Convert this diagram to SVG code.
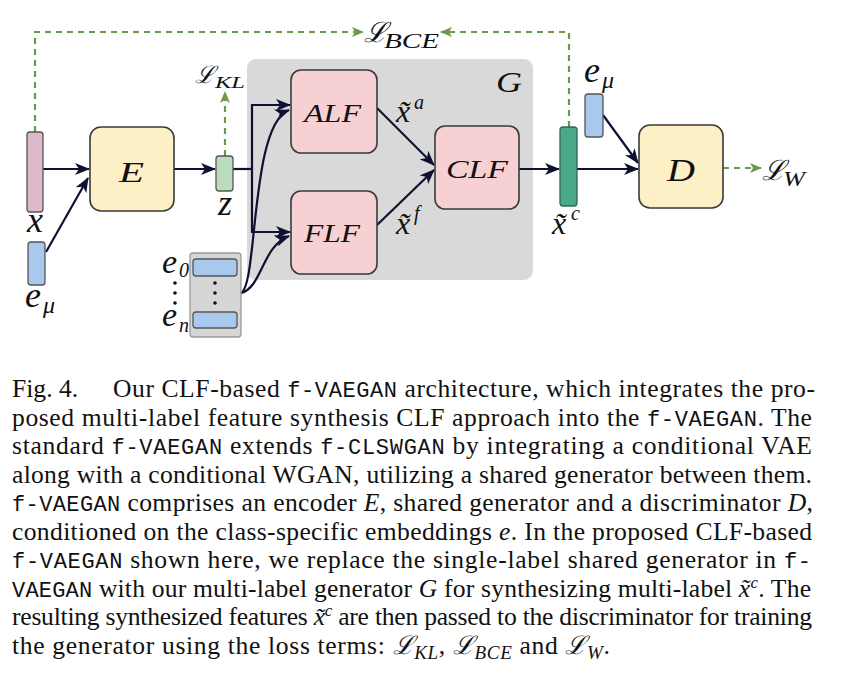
<svg xmlns="http://www.w3.org/2000/svg" width="842" height="679" viewBox="0 0 842 679">
<style>
.bar{stroke:#555;stroke-width:1.3}
.box{stroke:#3a3a3a;stroke-width:1.6}
.arr{fill:none;stroke:#0e1130;stroke-width:2.2;marker-end:url(#ah)}
.dashA{fill:none;stroke:#6a994e;stroke-width:2.2;stroke-dasharray:6 5;marker-end:url(#gh)}
.mi{font-family:"Liberation Serif","DejaVu Serif",serif;font-style:italic;fill:#111}
.cap{font-family:"Liberation Serif","DejaVu Serif",serif;font-size:25.6px;fill:#111}
.m{font-family:"Courier New","Nimbus Mono PS","FreeMono","Liberation Mono",monospace;font-size:22px}
.i{font-style:italic}
</style>
<defs>
<marker id="ah" markerUnits="userSpaceOnUse" viewBox="0 0 15 12" refX="14" refY="6" markerWidth="15" markerHeight="12" orient="auto">
<path d="M0,0 L15,6 L0,12 L4,6 Z" fill="#0e1130"/>
</marker>
<marker id="gh" markerUnits="userSpaceOnUse" viewBox="0 0 12 10" refX="11" refY="5" markerWidth="12" markerHeight="10" orient="auto">
<path d="M0,0 L12,5 L0,10 L3,5 Z" fill="#6a994e"/>
</marker>
</defs>

<g id="G">
<rect x="247" y="59" width="286" height="221" rx="9" fill="#d9d9d9"/>
<text class="mi" x="496" y="92" font-size="30" textLength="26" lengthAdjust="spacingAndGlyphs">G</text>
</g>

<g id="connectors">
<path class="dashA" d="M35,132 V32 H363"/>
<path class="dashA" d="M569,127 V32 H441"/>
<path class="dashA" d="M225,156 V92"/>
<path class="dashA" d="M723,168 H761"/>
<path class="arr" d="M43,169 H89"/>
<path class="arr" d="M46,252 L88,178"/>
<path class="arr" d="M174,169 H215"/>
<path fill="none" stroke="#0e1130" stroke-width="2.2" d="M233,169 H252"/>
<path class="arr" d="M252,169 V105 H290"/>
<path class="arr" d="M252,169 V232 H290"/>
<path class="arr" d="M241,293 C258,285 250,125 289,110" stroke-width="1.6"/>
<path class="arr" d="M241,293 C262,288 262,246 289,236" stroke-width="1.6"/>
<path class="arr" d="M377,108 L434,165"/>
<path class="arr" d="M377,225 L434,170"/>
<path class="arr" d="M519,169 H559"/>
<path class="arr" d="M577,169 H638"/>
<path class="arr" d="M603,115 L638,163"/>
</g>

<g id="x">
<rect class="bar" x="27" y="132" width="16" height="80" rx="3" fill="#dcb9cb"/>
<text class="mi" x="35" y="232" font-size="36" text-anchor="middle">x</text>
</g>
<g id="emu1">
<rect class="bar" x="28" y="242" width="17" height="43" rx="3" fill="#a9c8ee"/>
<text class="mi" x="25" y="307" font-size="36">e</text>
<text class="mi" x="43" y="313" font-size="24">μ</text>
</g>
<g id="E">
<rect class="box" x="90" y="127" width="84" height="84" rx="11" fill="#fdefc6"/>
<text class="mi" x="119" y="182" font-size="30" textLength="25" lengthAdjust="spacingAndGlyphs">E</text>
</g>
<g id="z">
<rect class="bar" x="216" y="156" width="17" height="35" rx="3" fill="#b9dcba"/>
<text class="mi" x="225" y="215" font-size="36" text-anchor="middle">z</text>
</g>
<g id="LKL">
<text class="mi" x="195" y="83" font-size="24">ℒ</text>
<text class="mi" x="215" y="88" font-size="16" textLength="30" lengthAdjust="spacingAndGlyphs">KL</text>
</g>
<g id="LBCE">
<text class="mi" x="364" y="42" font-size="28">ℒ</text>
<text class="mi" x="384" y="48" font-size="22" textLength="55" lengthAdjust="spacingAndGlyphs">BCE</text>
</g>
<g id="ALF">
<rect class="box" x="291" y="70" width="86" height="83" rx="10" fill="#f7d0d3"/>
<text class="mi" x="304" y="122" font-size="25" textLength="57" lengthAdjust="spacingAndGlyphs">ALF</text>
</g>
<g id="FLF">
<rect class="box" x="291" y="191" width="86" height="83" rx="10" fill="#f7d0d3"/>
<text class="mi" x="304" y="242" font-size="25" textLength="56" lengthAdjust="spacingAndGlyphs">FLF</text>
</g>
<g id="CLF">
<rect class="box" x="435" y="126" width="84" height="83" rx="10" fill="#f7d0d3"/>
<text class="mi" x="446" y="178" font-size="25" textLength="62" lengthAdjust="spacingAndGlyphs">CLF</text>
</g>
<g id="xa">
<text class="mi" x="396" y="122" font-size="32">x̃</text>
<text class="mi" x="414" y="109" font-size="20">a</text>
</g>
<g id="xf">
<text class="mi" x="396" y="234" font-size="32">x̃</text>
<text class="mi" x="414" y="220" font-size="20">f</text>
</g>
<g id="embeddings">
<rect x="190" y="253" width="51" height="84" rx="3" fill="#d6d6d6" stroke="#9a9a9a" stroke-width="1.3"/>
<rect class="bar" x="193" y="259" width="44" height="17" rx="3" fill="#a9c8ee"/>
<rect class="bar" x="193" y="312" width="44" height="16" rx="3" fill="#a9c8ee"/>
<circle cx="215" cy="283" r="1.8" fill="#111"/>
<circle cx="215" cy="293" r="1.8" fill="#111"/>
<circle cx="215" cy="303" r="1.8" fill="#111"/>
<text class="mi" x="162" y="273" font-size="34">e</text>
<text class="mi" x="179" y="277" font-size="20" font-style="normal">0</text>
<circle cx="175" cy="283" r="1.8" fill="#111"/>
<circle cx="175" cy="293" r="1.8" fill="#111"/>
<circle cx="175" cy="303" r="1.8" fill="#111"/>
<text class="mi" x="162" y="326" font-size="34">e</text>
<text class="mi" x="179" y="332" font-size="20">n</text>
</g>
<g id="xc">
<rect x="560" y="127" width="17" height="79" rx="3" fill="#4aa98a" stroke="#2d6a55" stroke-width="1.3"/>
<text class="mi" x="552" y="234" font-size="32">x̃</text>
<text class="mi" x="571" y="220" font-size="20">c</text>
</g>
<g id="emu2">
<rect class="bar" x="585" y="94" width="18" height="43" rx="3" fill="#a9c8ee"/>
<text class="mi" x="584" y="82" font-size="36">e</text>
<text class="mi" x="602" y="88" font-size="24">μ</text>
</g>
<g id="D">
<rect class="box" x="639" y="125" width="84" height="83" rx="11" fill="#fdefc6"/>
<text class="mi" x="667" y="181" font-size="32" textLength="28" lengthAdjust="spacingAndGlyphs">D</text>
</g>
<g id="LW">
<text class="mi" x="762" y="180" font-size="28">ℒ</text>
<text class="mi" x="783" y="186" font-size="20" textLength="22" lengthAdjust="spacingAndGlyphs">W</text>
</g>

<g id="caption" class="cap">
<text x="12" y="397">Fig. 4.</text>
<text x="113" y="397" textLength="702" lengthAdjust="spacing">Our CLF-based <tspan class="m">f-VAEGAN</tspan> architecture, which integrates the pro-</text>
<text x="12" y="425.5" textLength="800" lengthAdjust="spacing">posed multi-label feature synthesis CLF approach into the <tspan class="m">f-VAEGAN</tspan>. The</text>
<text x="12" y="454" textLength="800" lengthAdjust="spacing">standard <tspan class="m">f-VAEGAN</tspan> extends <tspan class="m">f-CLSWGAN</tspan> by integrating a conditional VAE</text>
<text x="12" y="482.5" textLength="800" lengthAdjust="spacing">along with a conditional WGAN, utilizing a shared generator between them.</text>
<text x="12" y="511" textLength="801" lengthAdjust="spacing"><tspan class="m">f-VAEGAN</tspan> comprises an encoder <tspan class="i">E</tspan>, shared generator and a discriminator <tspan class="i">D</tspan>,</text>
<text x="12" y="539.5" textLength="800" lengthAdjust="spacing">conditioned on the class-specific embeddings <tspan class="i">e</tspan>. In the proposed CLF-based</text>
<text x="12" y="568" textLength="799" lengthAdjust="spacing"><tspan class="m">f-VAEGAN</tspan> shown here, we replace the single-label shared generator in <tspan class="m">f-</tspan></text>
<text x="12" y="596.5" textLength="799" lengthAdjust="spacing"><tspan class="m">VAEGAN</tspan> with our multi-label generator <tspan class="i">G</tspan> for synthesizing multi-label <tspan class="i">x̃</tspan><tspan font-size="17" dy="-9" class="i">c</tspan><tspan dy="9">. The</tspan></text>
<text x="12" y="625" textLength="800" lengthAdjust="spacing">resulting synthesized features <tspan class="i">x̃</tspan><tspan font-size="17" dy="-9" class="i">c</tspan><tspan dy="9"> are then passed to the discriminator for training</tspan></text>
<text x="12" y="653.5" textLength="598" lengthAdjust="spacing">the generator using the loss terms: <tspan class="i">ℒ</tspan><tspan class="i" font-size="19" dy="5">KL</tspan><tspan dy="-5">, </tspan><tspan class="i">ℒ</tspan><tspan class="i" font-size="19" dy="5">BCE</tspan><tspan dy="-5"> and </tspan><tspan class="i">ℒ</tspan><tspan class="i" font-size="19" dy="5">W</tspan><tspan dy="-5">.</tspan></text>
</g>
</svg>
